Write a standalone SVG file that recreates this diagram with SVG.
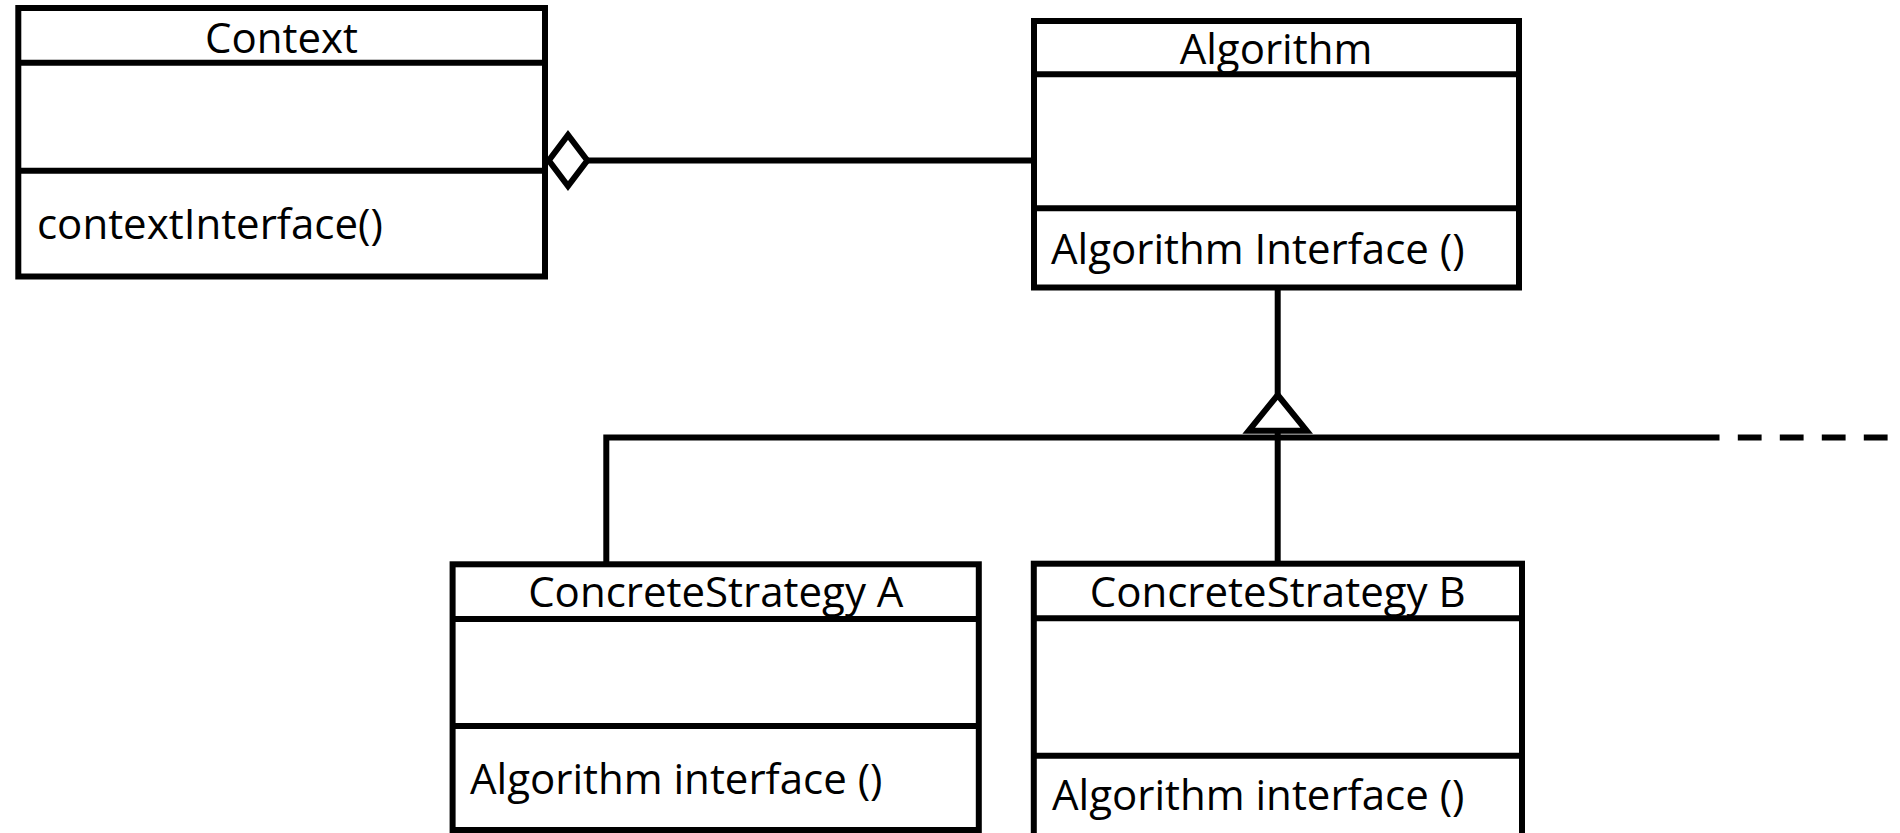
<svg xmlns="http://www.w3.org/2000/svg" width="1900" height="833" viewBox="0 0 1900 833">
  <style>
    .box { fill: #ffffff; stroke: #000000; stroke-width: 6; }
    .sep { stroke: #000000; stroke-width: 6; fill: none; }
    .wire { stroke: #000000; stroke-width: 6; fill: none; stroke-linejoin: miter; }
    .head { fill: #ffffff; stroke: #000000; stroke-width: 6; stroke-linejoin: miter; }
    .t { font-family: "Open Sans", "Liberation Sans", sans-serif; font-size: 42px; fill: #000000; }
    .mid { text-anchor: middle; }
  </style>
  <rect width="1900" height="833" fill="#ffffff"/>

  <!-- connectors -->
  <g id="connectors">
    <!-- aggregation: Context <>— Algorithm -->
    <line class="wire" x1="587" y1="160.5" x2="1034" y2="160.5"/>
    <polygon class="head" points="548.8,160.5 568,135 587.3,160.5 568,186"/>
    <!-- generalization: strategies —|> Algorithm -->
    <line class="wire" x1="1277.7" y1="287" x2="1277.7" y2="395"/>
    <path class="wire" d="M606.3,564 V437.5 H1719.5"/>
    <path class="wire" d="M1737.8,437.5 H1900" stroke-dasharray="23.8 18.2"/>
    <line class="wire" x1="1277.7" y1="431" x2="1277.7" y2="564"/>
    <polygon class="head" points="1277.7,395 1306.7,430.8 1248.7,430.8"/>
  </g>

  <g id="context">
    <rect class="box" x="18.3" y="8" width="526.7" height="268.5"/>
    <line class="sep" x1="18.3" y1="62.7" x2="545" y2="62.7"/>
    <line class="sep" x1="18.3" y1="170.7" x2="545" y2="170.7"/>
    <text class="t mid" x="281.5" y="52.5">Context</text>
    <text class="t" x="37" y="238.5">contextInterface()</text>
  </g>

  <g id="algorithm">
    <rect class="box" x="1034" y="21" width="485" height="266.5"/>
    <line class="sep" x1="1034" y1="74.3" x2="1519" y2="74.3"/>
    <line class="sep" x1="1034" y1="208.3" x2="1519" y2="208.3"/>
    <text class="t mid" x="1276" y="63.5">Algorithm</text>
    <text class="t" x="1051" y="263.5">Algorithm Interface ()</text>
  </g>

  <g id="concrete-strategy-a">
    <rect class="box" x="452.6" y="564.3" width="526.2" height="265.7"/>
    <line class="sep" x1="452.6" y1="619" x2="978.8" y2="619"/>
    <line class="sep" x1="452.6" y1="726" x2="978.8" y2="726"/>
    <text class="t mid" x="715.8" y="607">ConcreteStrategy A</text>
    <text class="t" x="470" y="793.5">Algorithm interface ()</text>
  </g>

  <g id="concrete-strategy-b">
    <rect class="box" x="1033.8" y="563.7" width="488.2" height="272.5"/>
    <line class="sep" x1="1033.8" y1="618.3" x2="1522" y2="618.3"/>
    <line class="sep" x1="1033.8" y1="755.7" x2="1522" y2="755.7"/>
    <text class="t mid" x="1277.7" y="607">ConcreteStrategy B</text>
    <text class="t" x="1052" y="809.5">Algorithm interface ()</text>
  </g>
</svg>
